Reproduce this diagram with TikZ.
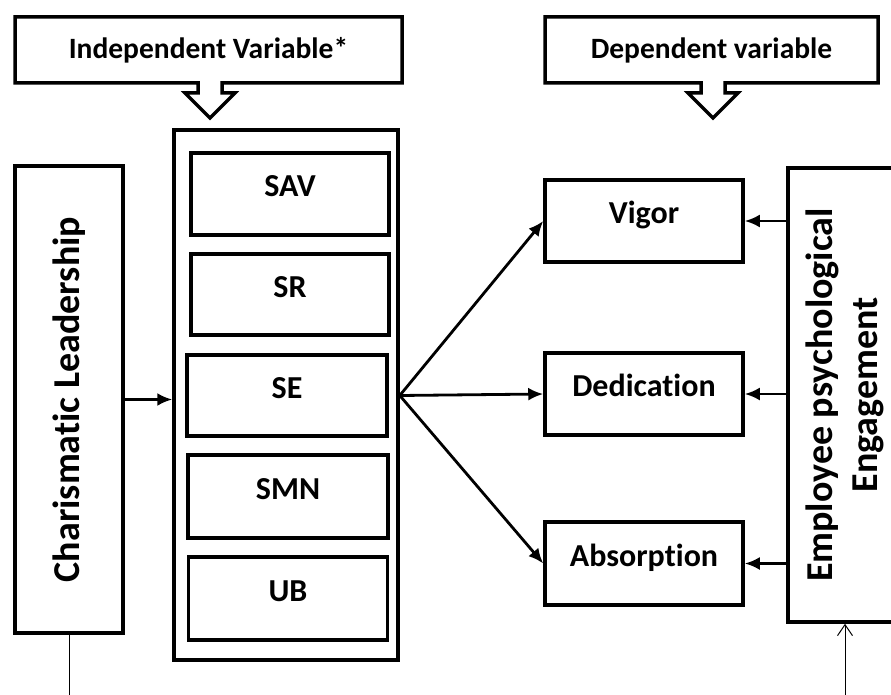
\documentclass[tikz,border=0pt]{standalone}
\usepackage{fontspec}
\setmainfont{Carlito}[Ligatures={NoCommon}]
\usetikzlibrary{arrows.meta}
\usetikzlibrary{calc}
\tikzstyle{block} = [draw, line width=3.5pt,
	inner sep=0pt, align=center,
	text height=21pt, text depth=16pt,
	font=\bfseries\fontsize{32}{38}\selectfont]
\tikzstyle{tall} = [draw, line width=3.5pt, rotate=90,
	inner sep=0pt, align=center,
	font=\bfseries\fontsize{38}{45}\selectfont]
\tikzstyle{arrow} =[-{Latex[length=15pt, width=13pt]}, line width=2.8pt]
\tikzstyle{thinarrow} =[-{Straight Barb[length=11pt, width=15pt]}, line width=1pt]
\newcommand{\drawcallout}[5]{
	\draw[line width=3.5pt, line join=miter] (#2,17) -- (#3,17) -- (#3,83)
	-- (#4+12,83) -- (#4+12,93) -- (#4+25,93) -- (#4,118)
	-- (#4-25,93) -- (#4-12,93) -- (#4-12,83) -- (#2,83) -- cycle;
	\node[font=\bfseries\fontsize{29.5}{35}\selectfont] (#1) at ({(#2+#3)/2}, 50) {#5}}

\begin{document}
\begin{tikzpicture}[x=1pt, y=-1pt]
			\useasboundingbox (0,0) rectangle (891,695);
			
			\drawcallout{indep}{15}{402}{210}{Independent Variable*};
			\drawcallout{dep}{545}{878}{713}{Dependent variable};
			
			\node (lead) [tall, minimum width=467pt, minimum height=108pt] at (69, 399.5) {Charismatic Leadership};
			\node (group) [draw, line width=3.5pt, minimum width=224pt, minimum height=530pt] at (286, 395) {};
			
			\node (sav) [block, minimum width=198pt, minimum height=82pt] at (290, 194) {SAV};
			\node (sr) [block, minimum width=198pt, minimum height=81pt] at (290, 294.5) {SR};
			\node (se) [block, minimum width=200pt, minimum height=81pt] at (287, 395.5) {SE};
			\node (smn) [block, minimum width=200pt, minimum height=83pt] at (288, 496.5) {SMN};
			\node (ub) [block, minimum width=199pt, minimum height=83pt] at (288, 598.5) {UB};
			
			\node (vigor) [block, minimum width=198pt, minimum height=82pt] at (644, 221) {Vigor};
			\node (dedic) [block, minimum width=198pt, minimum height=82pt] at (644, 394) {Dedication};
			\node (absorb) [block, minimum width=198pt, minimum height=83pt] at (644, 563.5) {Absorption};
			
			\node (engage) [tall, minimum width=454pt, minimum height=114pt] at (845, 395) {Employee psychological\\Engagement};
			
			\draw [arrow] (lead.south) -- (lead.south -| group.west);
			\draw [arrow] (group.east |- se) -- (vigor.west);
			\draw [arrow] (group.east |- se) -- (dedic.west);
			\draw [arrow] (group.east |- se) -- (absorb.west);
			
			\draw [arrow] (engage.north |- vigor.east) -- (vigor.east);
			\draw [arrow] (engage.north |- dedic.east) -- (dedic.east);
			\draw [arrow] (engage.north |- absorb.east) -- (absorb.east);
			
			\coordinate (leadend) at (69, 700);
			\coordinate (engin) at (845, 700);
			\draw [line width=1pt] (lead.west) -- (leadend);
			\draw [thinarrow] (engin) -- (engin |- engage.west);
			
		\end{tikzpicture}
\end{document}
